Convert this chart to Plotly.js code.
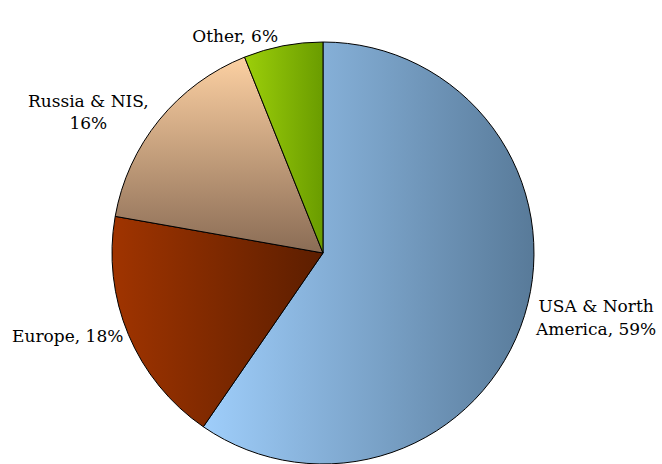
<!DOCTYPE html>
<html>
<head>
<meta charset="utf-8">
<script src="https://cdn.plot.ly/plotly-3.0.1.min.js"></script>
<style>html,body{margin:0;padding:0;background:#fff;}#chart{width:662px;height:464px;}</style>
</head>
<body>
<div id="chart"></div>
<script>
const regions = ["USA & North America", "Europe", "Russia & NIS", "Other"];
const shares = [59, 18, 16, 6];
const sliceColors = ["#7ba5cb", "#7e2a02", "#c29e7a", "#84b400"];
// gradient stops (start, end) and direction per slice
const gradStart = ["#9fcefb", "#a03400", "#fcd0a2", "#9ccf0a"];
const gradEnd = ["#587a99", "#5c1e00", "#8a6c55", "#6a9c00"];
const gradVertical = [false, false, true, false];

const labelText = regions.map((r, i) => {
  if (i === 0) return "USA &amp; North<br>America, " + shares[i] + "%";
  if (i === 2) return "Russia &amp; NIS,<br>" + shares[i] + "%";
  return r + ", " + shares[i] + "%";
});

const trace = {
  type: "pie",
  labels: regions,
  values: shares,
  text: labelText,
  textinfo: "text",
  texttemplate: "%{text}",
  textposition: "outside",
  automargin: false,
  sort: false,
  direction: "clockwise",
  rotation: 0,
  marker: { colors: sliceColors, line: { color: "#000000", width: 1 } },
  outsidetextfont: { family: "DejaVu Serif", size: 17, color: "#000000" },
  domain: { x: [0.15, 0.8258], y: [0, 1] },
  hoverinfo: "none",
  showlegend: false
};

const layout = {
  width: 662, height: 464,
  margin: { l: 0, r: 0, t: 42, b: 0 },
  paper_bgcolor: "#ffffff",
  plot_bgcolor: "#ffffff",
  showlegend: false
};

Plotly.newPlot("chart", [trace], layout, { displayModeBar: false, staticPlot: true }).then(gd => {
  const svg = gd.querySelector("svg.main-svg");
  const NS = "http://www.w3.org/2000/svg";
  let defs = svg.querySelector("defs");
  if (!defs) { defs = document.createElementNS(NS, "defs"); svg.insertBefore(defs, svg.firstChild); }
  const paths = gd.querySelectorAll(".slice path.surface");
  paths.forEach((p, i) => {
    const g = document.createElementNS(NS, "linearGradient");
    g.setAttribute("id", "sliceGrad" + i);
    g.setAttribute("x1", "0"); g.setAttribute("y1", "0");
    g.setAttribute("x2", gradVertical[i] ? "0" : "1");
    g.setAttribute("y2", gradVertical[i] ? "1" : "0");
    const s1 = document.createElementNS(NS, "stop");
    s1.setAttribute("offset", "0"); s1.setAttribute("stop-color", gradStart[i]);
    const s2 = document.createElementNS(NS, "stop");
    s2.setAttribute("offset", "1"); s2.setAttribute("stop-color", gradEnd[i]);
    g.appendChild(s1); g.appendChild(s2);
    defs.appendChild(g);
    p.style.fill = "url(#sliceGrad" + i + ")";
  });
});
</script>
</body>
</html>
